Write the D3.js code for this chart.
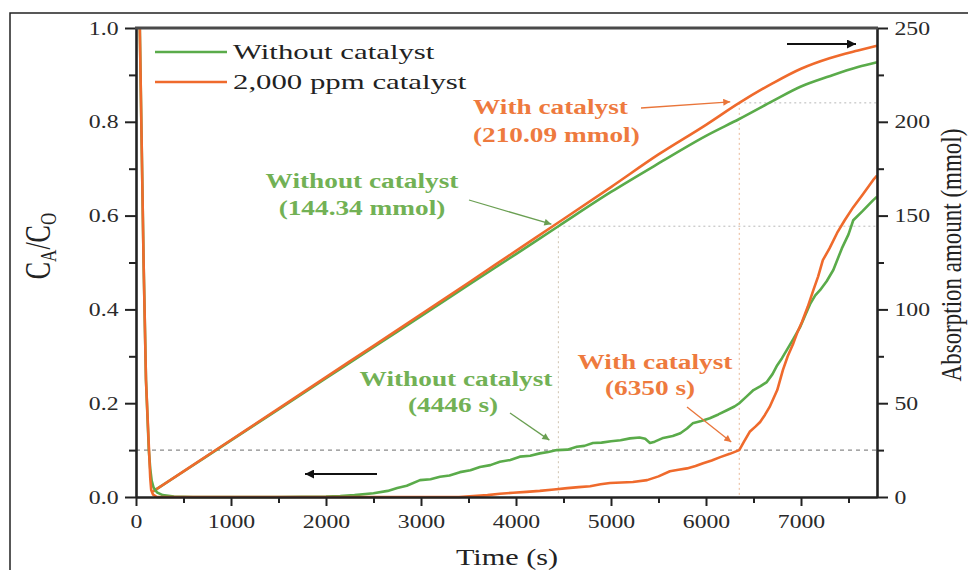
<!DOCTYPE html>
<html>
<head>
<meta charset="utf-8">
<script src="https://cdn.jsdelivr.net/npm/d3@7"></script>
<style>
  body { margin: 0; background: #fff; }
  svg { display: block; }
</style>
</head>
<body>
<svg id="chart" width="968" height="570"></svg>
<script>
// ---- Series: outlet concentration ratio C_A/C_0 (left axis) ----
const timeCWithout = [40, 60, 80, 105, 135, 150, 165, 185, 220, 280, 400, 600, 1000, 1500, 2000, 2150, 2300, 2500, 2650, 2750, 2850, 2990, 3100, 3200, 3300, 3410, 3520, 3620, 3730, 3830, 3940, 4040, 4150, 4250, 4340, 4430, 4540, 4640, 4720, 4810, 4900, 5000, 5100, 5200, 5300, 5360, 5410, 5460, 5550, 5650, 5730, 5800, 5860, 5950, 6040, 6130, 6220, 6300, 6350, 6420, 6500, 6570, 6640, 6700, 6750, 6800, 6850, 6920, 6990, 7050, 7100, 7150, 7200, 7270, 7340, 7430, 7500, 7550, 7650, 7760, 7800];
const ratioWithout = [1.0, 0.75, 0.5, 0.25, 0.1, 0.06, 0.035, 0.02, 0.01, 0.004, 0.001, 0, 0, 0, 0.001, 0.002, 0.004, 0.008, 0.013, 0.019, 0.024, 0.036, 0.038, 0.043, 0.046, 0.053, 0.057, 0.064, 0.068, 0.075, 0.079, 0.086, 0.088, 0.093, 0.096, 0.100, 0.101, 0.107, 0.109, 0.115, 0.116, 0.119, 0.121, 0.125, 0.127, 0.124, 0.115, 0.118, 0.126, 0.13, 0.136, 0.146, 0.157, 0.162, 0.168, 0.176, 0.185, 0.193, 0.200, 0.213, 0.228, 0.236, 0.245, 0.262, 0.281, 0.296, 0.313, 0.337, 0.362, 0.39, 0.413, 0.43, 0.441, 0.46, 0.484, 0.53, 0.56, 0.59, 0.61, 0.633, 0.64];

const timeCWith = [40, 60, 80, 105, 137, 150, 160, 180, 220, 600, 1000, 2000, 3000, 3400, 3550, 3700, 3830, 3970, 4110, 4250, 4400, 4540, 4660, 4780, 4890, 4990, 5110, 5230, 5380, 5500, 5620, 5710, 5800, 5890, 5970, 6060, 6150, 6250, 6350, 6400, 6460, 6520, 6570, 6620, 6670, 6710, 6750, 6810, 6860, 6920, 6960, 7010, 7070, 7130, 7180, 7230, 7300, 7380, 7460, 7550, 7650, 7760, 7800];
const ratioWith = [1.0, 0.75, 0.5, 0.25, 0.1, 0.04, 0.015, 0.005, 0, 0, 0, 0, 0, 0.0, 0.002, 0.004, 0.007, 0.009, 0.011, 0.013, 0.016, 0.019, 0.021, 0.023, 0.027, 0.030, 0.031, 0.032, 0.036, 0.044, 0.055, 0.058, 0.061, 0.066, 0.072, 0.078, 0.085, 0.092, 0.100, 0.118, 0.139, 0.150, 0.160, 0.175, 0.192, 0.21, 0.228, 0.271, 0.30, 0.328, 0.35, 0.373, 0.405, 0.441, 0.47, 0.505, 0.53, 0.563, 0.59, 0.618, 0.645, 0.676, 0.685];

// ---- Series: cumulative absorption amount in mmol (right axis) ----
const timeAbs = [180, 500, 1000, 1500, 2000, 2500, 3000, 3500, 4000, 4446, 5000, 5500, 6000, 6350, 6700, 7000, 7300, 7600, 7800];
const absWithout = [3.0, 13.6, 30.2, 46.7, 63.3, 79.9, 96.4, 113.0, 129.5, 144.34, 162.6, 177.8, 192.5, 201.5, 211.0, 218.8, 224.3, 229.2, 231.7];
const absWith = [3.0, 13.7, 30.4, 47.1, 63.9, 80.6, 97.4, 114.2, 131.2, 146.3, 165.2, 182.6, 198.4, 210.09, 220.5, 228.3, 233.9, 238.0, 240.5];

// ---- Breakthrough points (C_A/C_0 = 0.1) ----
const breakThreshold = 0.1;
const breakTimes = [4446, 6350];       // without, with catalyst
const breakAbsorbed = [144.34, 210.09]; // mmol absorbed at breakthrough

// ---- Labels and ticks ----
const legendLabels = ["Without catalyst", "2,000 ppm catalyst"];
const xTicks = [0, 1000, 2000, 3000, 4000, 5000, 6000, 7000];
const xMinor = [500, 1500, 2500, 3500, 4500, 5500, 6500, 7500];
const yLeftTicks = [0, 0.2, 0.4, 0.6, 0.8, 1.0];
const yLeftMinor = [0.1, 0.3, 0.5, 0.7, 0.9];
const yRightTicks = [0, 50, 100, 150, 200, 250];
const yRightMinor = [25, 75, 125, 175, 225];

const GREEN = "#5aab4a", ORANGE = "#ef6a2c";
const GREEN_TXT = "#72b155", ORANGE_TXT = "#ee7a3e";
const SERIF = "'Liberation Serif','Times New Roman',serif";

const svg = d3.select("#chart");
svg.append("rect").attr("width", 968).attr("height", 570).attr("fill", "#fff");

// outer figure frame
svg.append("rect").attr("x", 10).attr("y", 13).attr("width", 1000).attr("height", 620)
  .attr("fill", "none").attr("stroke", "#222").attr("stroke-width", 1.5);

const x = d3.scaleLinear().domain([0, 7800]).range([136, 877]);
const yL = d3.scaleLinear().domain([0, 1]).range([497, 28]);
const yR = d3.scaleLinear().domain([0, 250]).range([497, 28]);

// arrow heads
const defs = svg.append("defs");
function marker(id, color, w, h) {
  defs.append("marker").attr("id", id).attr("viewBox", "0 0 10 10")
    .attr("refX", 10).attr("refY", 5).attr("markerUnits", "userSpaceOnUse")
    .attr("markerWidth", w).attr("markerHeight", h).attr("orient", "auto")
    .append("path").attr("d", "M0,0 L10,5 L0,10 Z").attr("fill", color);
}
marker("ah-green", "#6a9f52", 10, 7);
marker("ah-orange", "#e9753a", 10, 7);
marker("ah-black", "#111", 13, 9);

// reference lines at breakthrough
const ref = svg.append("g");
ref.append("line")
  .attr("x1", x(0)).attr("x2", x(7800))
  .attr("y1", yL(breakThreshold)).attr("y2", yL(breakThreshold))
  .attr("stroke", "#8a8a8a").attr("stroke-width", 1.2).attr("stroke-dasharray", "4,4");
breakTimes.forEach((t, i) => {
  ref.append("line")
    .attr("x1", x(t)).attr("x2", x(7800))
    .attr("y1", yR(breakAbsorbed[i])).attr("y2", yR(breakAbsorbed[i]))
    .attr("stroke", "#b8b8b8").attr("stroke-width", 1).attr("stroke-dasharray", "2,3");
  ref.append("line")
    .attr("x1", x(t)).attr("x2", x(t))
    .attr("y1", yR(breakAbsorbed[i])).attr("y2", yR(0))
    .attr("stroke", i === 0 ? "#cfc3b0" : "#e9b896").attr("stroke-width", 1).attr("stroke-dasharray", "2,3");
});

// curves
const lineL = d3.line().x(d => x(d[0])).y(d => yL(d[1]));
const lineR = d3.line().x(d => x(d[0])).y(d => yR(d[1])).curve(d3.curveMonotoneX);
const zip = (a, b) => a.map((v, i) => [v, b[i]]);

const curves = svg.append("g").attr("fill", "none").attr("stroke-width", 2.6)
  .attr("stroke-linejoin", "round");
curves.append("path").attr("d", lineR(zip(timeAbs, absWithout))).attr("stroke", GREEN);
curves.append("path").attr("d", lineR(zip(timeAbs, absWith))).attr("stroke", ORANGE);
curves.append("path").attr("d", lineL(zip(timeCWithout, ratioWithout))).attr("stroke", GREEN);
curves.append("path").attr("d", lineL(zip(timeCWith, ratioWith))).attr("stroke", ORANGE);

// axes
function styleAxis(g, sx) {
  g.select(".domain").attr("stroke", "#222").attr("stroke-width", 2.6);
  g.selectAll(".tick line").attr("stroke", "#222").attr("stroke-width", 2);
  g.selectAll(".tick text").attr("fill", "#2a2a2a")
    .style("font-family", SERIF).style("font-size", "19px")
    .attr("transform", `scale(${sx},1)`);
}
const gx = svg.append("g").attr("transform", `translate(0,${yL(0)})`)
  .call(d3.axisBottom(x).tickValues(xTicks).tickFormat(d3.format("d")).tickSize(9).tickPadding(8.5).tickSizeOuter(0));
styleAxis(gx, 1.25);
const gxm = svg.append("g").attr("transform", `translate(0,${yL(0)})`)
  .call(d3.axisBottom(x).tickValues(xMinor).tickFormat("").tickSize(6).tickSizeOuter(0));
gxm.select(".domain").remove();
gxm.selectAll(".tick line").attr("stroke", "#222").attr("stroke-width", 2);

const gl = svg.append("g").attr("transform", `translate(${x(0)},0)`)
  .call(d3.axisLeft(yL).tickValues(yLeftTicks).tickFormat(d3.format(".1f")).tickSize(11).tickPadding(3).tickSizeOuter(0));
styleAxis(gl, 1.25);
const glm = svg.append("g").attr("transform", `translate(${x(0)},0)`)
  .call(d3.axisLeft(yL).tickValues(yLeftMinor).tickFormat("").tickSize(7).tickSizeOuter(0));
glm.select(".domain").remove();
glm.selectAll(".tick line").attr("stroke", "#222").attr("stroke-width", 2);

const gr = svg.append("g").attr("transform", `translate(${x(7800)},0)`)
  .call(d3.axisRight(yR).tickValues(yRightTicks).tickFormat(d3.format("d")).tickSize(11).tickPadding(3).tickSizeOuter(0));
styleAxis(gr, 1.25);
const grm = svg.append("g").attr("transform", `translate(${x(7800)},0)`)
  .call(d3.axisRight(yR).tickValues(yRightMinor).tickFormat("").tickSize(7).tickSizeOuter(0));
grm.select(".domain").remove();
grm.selectAll(".tick line").attr("stroke", "#222").attr("stroke-width", 2);

// top border of the plot
svg.append("line").attr("x1", x(0) - 1).attr("x2", x(7800) + 1)
  .attr("y1", yL(1)).attr("y2", yL(1)).attr("stroke", "#4a4a4a").attr("stroke-width", 3);

// text helper: horizontally widened serif text
function label(px, py, str, o) {
  const g = svg.append("g").attr("transform", `translate(${px},${py}) scale(${o.sx || 1.3},1)${o.rot ? ` rotate(${o.rot})` : ""}`);
  return g.append("text").attr("text-anchor", o.anchor || "middle")
    .style("font-family", SERIF).style("font-size", (o.size || 21) + "px")
    .style("font-weight", o.bold ? "bold" : "normal")
    .attr("fill", o.fill || "#222").text(str);
}

// axis titles
label(507, 565, "Time (s)", { size: 24, sx: 1.26, fill: "#222" });
const yt = label(50, 246, "", { size: 26, sx: 1.4, rot: -90, fill: "#222" });
yt.append("tspan").text("C");
yt.append("tspan").attr("dy", 4).style("font-size", "17px").text("A");
yt.append("tspan").attr("dy", -4).text("/C");
yt.append("tspan").attr("dy", 4).style("font-size", "17px").text("O");
label(961, 255, "Absorption amount (mmol)", { size: 23, sx: 1.25, rot: -90, fill: "#222" });

// legend
const legColors = [GREEN, ORANGE];
legendLabels.forEach((t, i) => {
  const ly = 52 + i * 30;
  svg.append("line").attr("x1", 155).attr("x2", 227).attr("y1", ly).attr("y2", ly)
    .attr("stroke", legColors[i]).attr("stroke-width", 2.6);
  label(233, ly + 7, t, { size: 22, sx: 1.4, anchor: "start", fill: "#222" });
});

// annotations
label(473, 114, "With catalyst", { bold: true, anchor: "start", fill: ORANGE_TXT });
label(473, 142, `(${breakAbsorbed[1]} mmol)`, { bold: true, anchor: "start", fill: ORANGE_TXT });
label(362, 188, "Without catalyst", { bold: true, fill: GREEN_TXT });
label(362, 215, `(${breakAbsorbed[0]} mmol)`, { bold: true, fill: GREEN_TXT });
label(456, 386, "Without catalyst", { bold: true, fill: GREEN_TXT });
label(453, 412, `(${breakTimes[0]} s)`, { bold: true, fill: GREEN_TXT });
label(655, 369, "With catalyst", { bold: true, fill: ORANGE_TXT });
label(650, 395, `(${breakTimes[1]} s)`, { bold: true, fill: ORANGE_TXT });

// pointer arrows
function arrow(x1, y1, x2, y2, color, id, w) {
  svg.append("line").attr("x1", x1).attr("y1", y1).attr("x2", x2).attr("y2", y2)
    .attr("stroke", color).attr("stroke-width", w).attr("marker-end", `url(#${id})`);
}
arrow(641, 108, x(breakTimes[1]) - 9, yR(breakAbsorbed[1]) - 1, "#e9753a", "ah-orange", 1.3);
arrow(469, 200, x(breakTimes[0]) - 7, yR(breakAbsorbed[0]) - 2, "#6a9f52", "ah-green", 1.3);
arrow(510, 413, x(breakTimes[0]) - 9, yL(breakThreshold) - 10, "#6a9f52", "ah-green", 1.3);
arrow(687, 407, x(breakTimes[1]) - 8, yL(breakThreshold) - 8, "#e9753a", "ah-orange", 1.3);
arrow(377, 474, 305, 474, "#111", "ah-black", 2);
arrow(787, 44, 856, 44, "#111", "ah-black", 2);
</script>
</body>
</html>
